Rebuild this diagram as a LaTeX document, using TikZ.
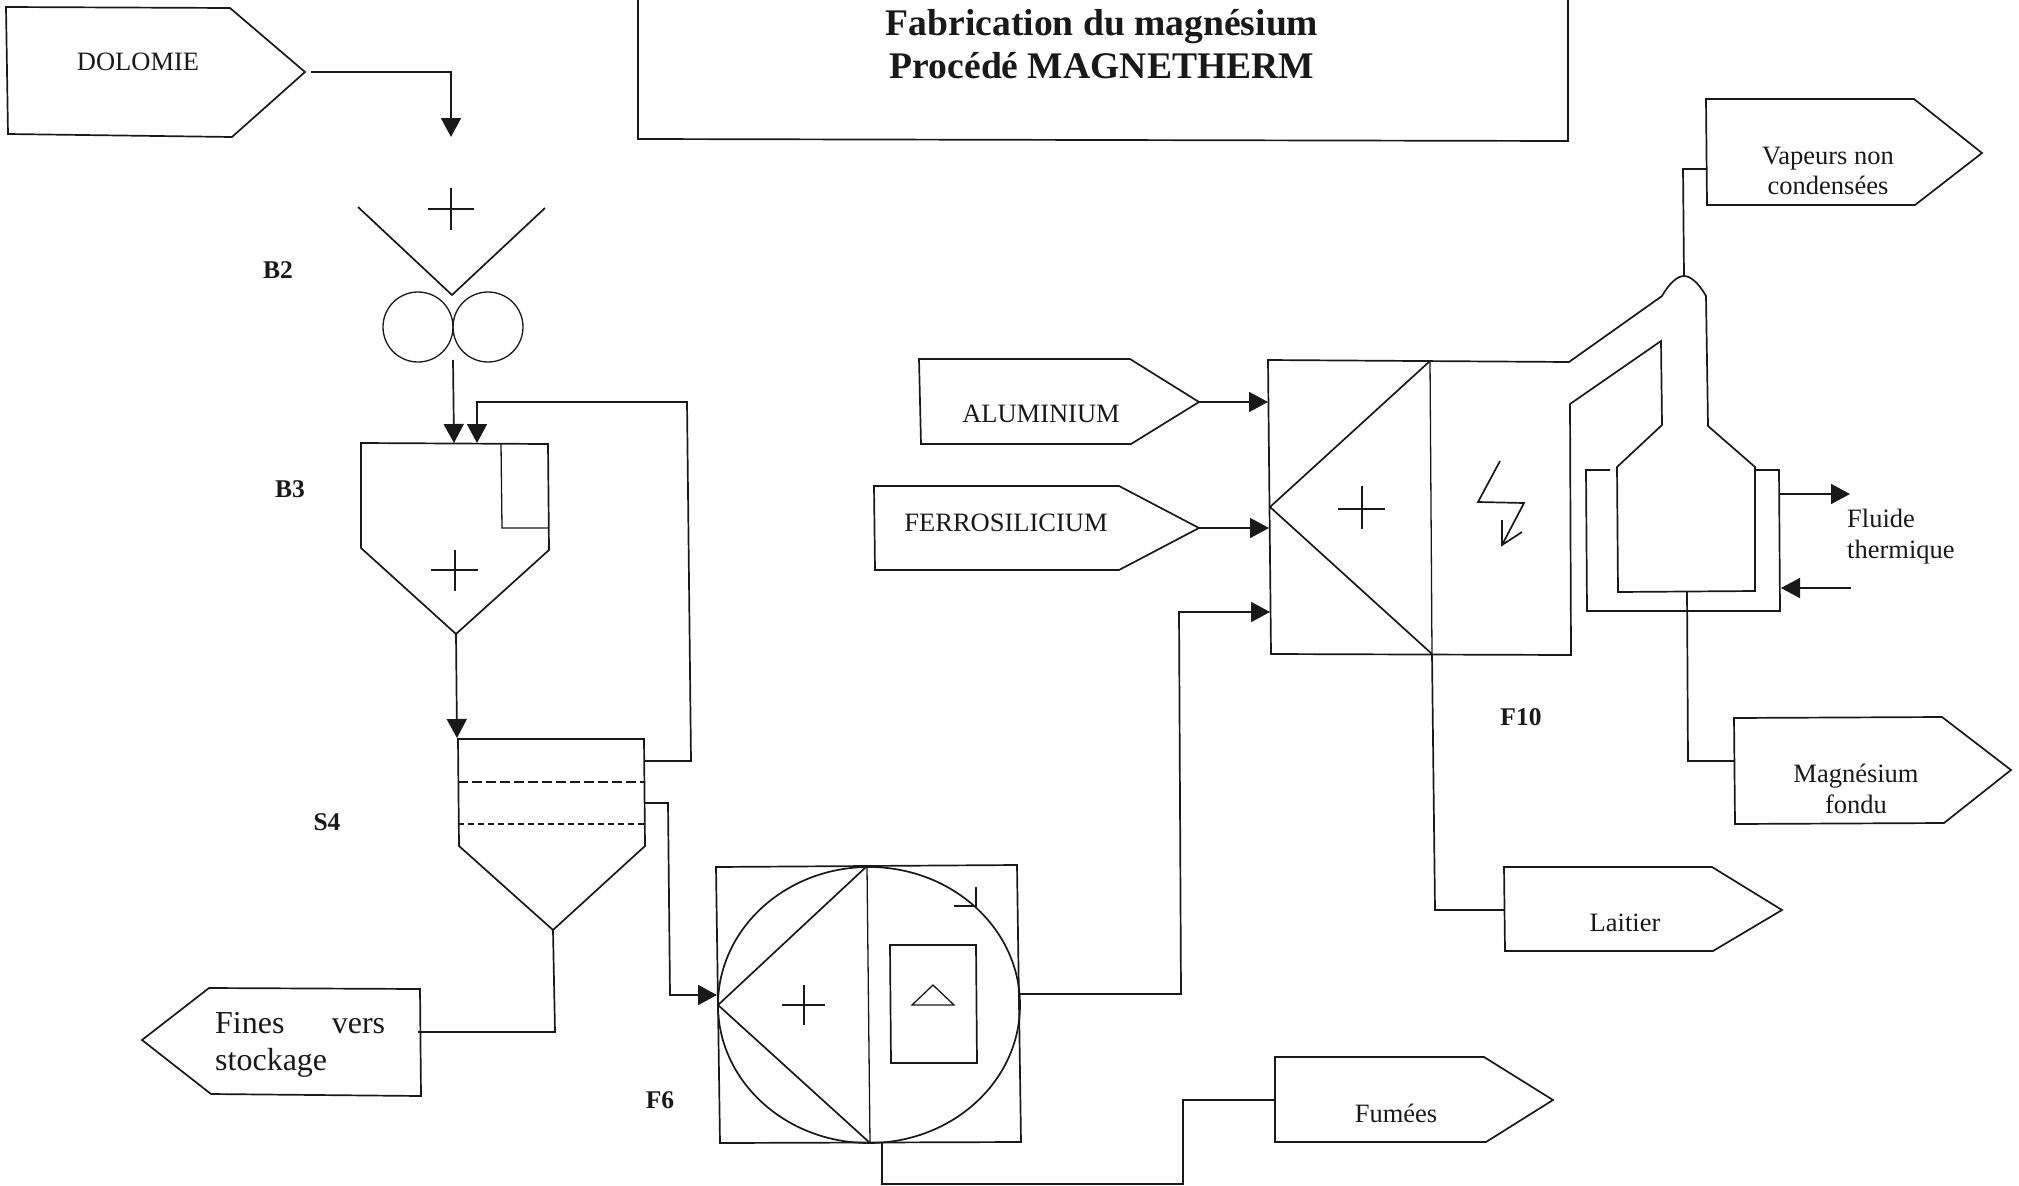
\documentclass[tikz,border=0pt]{standalone}
\usepackage{fontspec}
\setmainfont{Liberation Serif}
\usetikzlibrary{arrows.meta}
\tikzset{
  every path/.style={line join=miter},
  ln/.style={draw=black!90,line width=1.7pt},
  thn/.style={draw=black!90,line width=1.3pt},
  flow/.style={ln,-{Triangle[length=19pt,width=20pt]}},
  lbl/.style={inner sep=0pt,align=center,font=\fontsize{26.5}{30.5}\selectfont,text=black!90},
  tag/.style={inner sep=0pt,font=\bfseries\fontsize{25.5}{30}\selectfont,text=black!90},
  ttl/.style={inner sep=0pt,align=center,font=\bfseries\fontsize{37.6}{43}\selectfont,text=black!90},
}
\begin{document}
\begin{tikzpicture}[x=1pt,y=-1pt]
\useasboundingbox (0,0) rectangle (2019,1186);
% title
\draw[ln] (638,0) -- (638,139) -- (1568,141) -- (1568,0);
\node[ttl] (title) at (1102,44) {Fabrication du magnésium\\Procédé MAGNETHERM};
% source / product pentagons
\draw[ln] (6,7) -- (230,8) -- (305,72) -- (232,137) -- (8,134) -- cycle;
\coordinate (dolTip) at (311,72);
\node[lbl] (dolomie) at (138,62) {DOLOMIE};
\draw[ln] (919,359) -- (1130,359) -- (1199,402) -- (1131,444) -- (921,444) -- cycle;
\coordinate (aluTip) at (1199,402);
\node[lbl] (alu) at (1041,414) {ALUMINIUM};
\draw[ln] (874,486) -- (1119,486) -- (1199,528) -- (1119,570) -- (875,570) -- cycle;
\coordinate (ferTip) at (1199,528);
\node[lbl] (fer) at (1006,523) {FERROSILICIUM};
\draw[ln] (1706,99) -- (1914,99) -- (1982,153) -- (1915,205) -- (1707,205) -- cycle;
\coordinate (vapIn) at (1706,169);
\node[lbl] (vap) at (1828,171) {Vapeurs non\\condensées};
\draw[ln] (1734,718) -- (1942,717) -- (2011,770) -- (1944,823) -- (1735,824) -- cycle;
\coordinate (magIn) at (1734,761);
\node[lbl] (mag) at (1856,789) {Magnésium\\fondu};
\draw[ln] (1504,867) -- (1712,867) -- (1782,910) -- (1713,951) -- (1505,951) -- cycle;
\coordinate (laiIn) at (1504,910);
\node[lbl] (lai) at (1625,923) {Laitier};
\draw[ln] (1275,1057) -- (1484,1057) -- (1553,1100) -- (1486,1142) -- (1275,1142) -- cycle;
\coordinate (fumIn) at (1275,1100);
\node[lbl] (fum) at (1396,1113) {Fumées};
\draw[ln] (209,988) -- (420,989) -- (421,1096) -- (211,1094) -- (142,1040) -- cycle;
\coordinate (finIn) at (418,1032);
\node[inner sep=0pt,align=left,anchor=west,font=\fontsize{32}{37}\selectfont,text=black!90] (fines) at (215,1045) {\makebox[170pt][s]{Fines vers}\\stockage};
% B2 crusher
\draw[ln] (358,207) -- (452,295) -- (545,208);
\draw[thn] (428,209) -- (474,209) (451,188) -- (451,230);
\draw[thn] (418,327) circle[radius=35];
\draw[thn] (488,327) circle[radius=35];
\coordinate (b2Top) at (451,137);
\coordinate (b2Out) at (453,360);
\node[tag] (B2) at (278,270) {B2};
% B3 hopper
\draw[ln] (361,443) -- (548,444) -- (549,550) -- (456,634) -- (361,548) -- cycle;
\draw[thn] (501,444) -- (502,528) -- (549,528);
\draw[thn] (431,570) -- (478,570) (455,550) -- (455,591);
\coordinate (b3InA) at (454,443);
\coordinate (b3InB) at (477,443);
\coordinate (b3Out) at (456,634);
\node[tag] (B3) at (290,489) {B3};
% S4 screen
\draw[ln] (458,739) -- (644,739) -- (645,846) -- (553,930) -- (459,846) -- cycle;
\draw[ln,dash pattern=on 10pt off 4pt] (458,782) -- (644,782);
\draw[ln,dash pattern=on 6pt off 4pt] (458,824) -- (645,824);
\coordinate (s4In) at (457,738);
\coordinate (s4OutA) at (645,761);
\coordinate (s4OutB) at (645,803);
\coordinate (s4Bot) at (553,930);
\node[tag] (S4) at (327,822) {S4};
% F6 furnace
\draw[ln] (716,867) -- (1017,865) -- (1021,1142) -- (720,1143) -- cycle;
\draw[ln] (869,1005) ellipse[x radius=151,y radius=138];
\draw[thn] (867,867) -- (870,1143);
\draw[ln] (866,867) -- (718,1005) -- (870,1143);
\draw[thn] (782,1005) -- (825,1005) (804,985) -- (804,1025);
\draw[thn] (954,906) -- (976,906) (976,887) -- (976,908);
\draw[ln] (890,945) -- (976,945) -- (977,1063) -- (891,1063) -- cycle;
\draw[thn] (933,985) -- (954,1005) -- (912,1005) -- cycle;
\coordinate (f6In) at (717,995);
\coordinate (f6Out) at (1020,994);
\coordinate (f6Bot) at (882,1143);
\node[tag] (F6) at (660,1100) {F6};
% F10 furnace and condenser
\draw[ln] (1268,360) -- (1569,362) -- (1662,296)
  .. controls (1670,282) and (1678,276) .. (1684,276)
  .. controls (1690,276) and (1698,282) .. (1706,296)
  -- (1708,426) -- (1755,467) -- (1755,591) -- (1618,592) -- (1617,467) -- (1662,425)
  -- (1661,341) -- (1570,404) -- (1571,655) -- (1271,654) -- cycle;
\draw[thn] (1430,361) -- (1432,654);
\draw[ln] (1430,361) -- (1270,507) -- (1432,654);
\draw[thn] (1338,509) -- (1385,509) (1362,486) -- (1362,529);
\draw[ln] (1500,461) -- (1478,502) -- (1524,503) -- (1502,545) (1502,520) -- (1502,545) -- (1522,532);
\draw[ln] (1610,470) -- (1586,470) -- (1587,611) -- (1780,611) -- (1779,470) -- (1756,470);
\coordinate (f10InA) at (1268,402);
\coordinate (f10InB) at (1269,528);
\coordinate (f10InC) at (1270,612);
\coordinate (f10Bot) at (1432,654);
\coordinate (domeTop) at (1684,276);
\coordinate (condBot) at (1687,592);
\coordinate (jackOut) at (1779,494);
\coordinate (jackOutEnd) at (1850,494);
\coordinate (jackIn) at (1781,588);
\coordinate (jackInStart) at (1851,588);
\node[tag] (F10) at (1521,717) {F10};
\node[lbl,align=left,anchor=north west] (fluide) at (1847,509) {Fluide\\thermique};
% connectors
\draw[flow] (dolTip) -| (b2Top);
\draw[flow] (b2Out) -- (b3InA);
\draw[flow] (s4OutA) -- (691,761) -- (687,402) -- (477,402) -- (b3InB);
\draw[flow] (b3Out) -- (s4In);
\draw[ln] (s4Bot) -- (555,1032) -- (finIn);
\draw[flow] (s4OutB) -- (668,803) -- (670,995) -- (f6In);
\draw[flow] (f6Out) -- (1181,994) -- (1179,612) -- (f10InC);
\draw[ln] (f6Bot) -- (882,1184) -- (1183,1184) -- (1183,1100) -- (fumIn);
\draw[flow] (aluTip) -- (f10InA);
\draw[flow] (ferTip) -- (f10InB);
\draw[ln] (f10Bot) -- (1435,910) -- (laiIn);
\draw[ln] (condBot) -- (1688,761) -- (magIn);
\draw[ln] (domeTop) -- (1683,169) -- (vapIn);
\draw[flow] (jackOut) -- (jackOutEnd);
\draw[flow] (jackInStart) -- (jackIn);
\end{tikzpicture}
\end{document}
